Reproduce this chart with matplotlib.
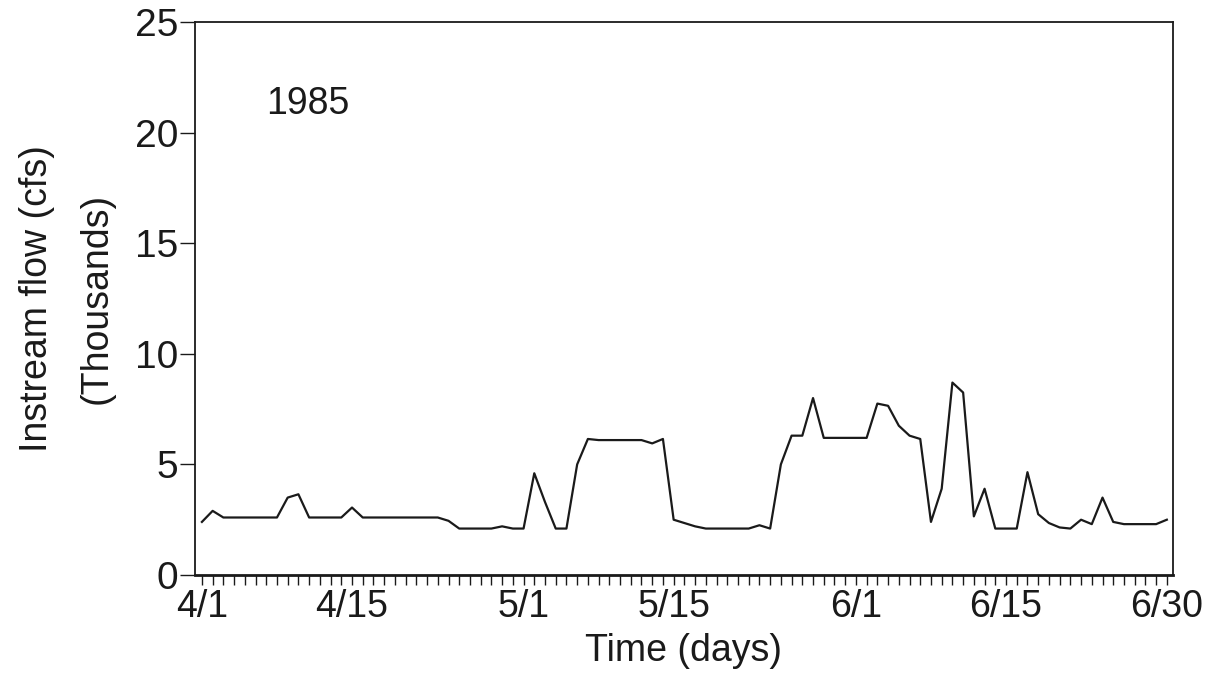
import numpy as np
import matplotlib.pyplot as plt

# Daily instream flow, 4/1 through 6/30 (thousands of cfs)
days = np.arange(0, 91)
flow = [
    2.4, 2.9, 2.6, 2.6, 2.6, 2.6, 2.6, 2.6, 3.5, 3.65,   # 4/1 - 4/10
    2.6, 2.6, 2.6, 2.6, 3.05, 2.6, 2.6, 2.6, 2.6, 2.6,   # 4/11 - 4/20
    2.6, 2.6, 2.6, 2.45, 2.1, 2.1, 2.1, 2.1, 2.2, 2.1,   # 4/21 - 4/30
    2.1, 4.6, 3.3, 2.1, 2.1, 5.0, 6.15, 6.1, 6.1, 6.1,   # 5/1 - 5/10
    6.1, 6.1, 5.95, 6.15, 2.5, 2.35, 2.2, 2.1, 2.1, 2.1,  # 5/11 - 5/20
    2.1, 2.1, 2.25, 2.1, 5.0, 6.3, 6.3, 8.0, 6.2, 6.2,   # 5/21 - 5/30
    6.2, 6.2, 6.2, 7.75, 7.65, 6.75, 6.3, 6.15, 2.4, 3.9,  # 5/31 - 6/9
    8.7, 8.25, 2.65, 3.9, 2.1, 2.1, 2.1, 4.65, 2.75, 2.35,  # 6/10 - 6/19
    2.15, 2.1, 2.5, 2.3, 3.5, 2.4, 2.3, 2.3, 2.3, 2.3,   # 6/20 - 6/29
    2.5,                                                  # 6/30
]
tick_days = [0, 14, 30, 44, 61, 75, 90]
tick_labels = ['4/1', '4/15', '5/1', '5/15', '6/1', '6/15', '6/30']
y_ticks = [0, 5, 10, 15, 20, 25]

plt.rcParams['font.family'] = ['Liberation Sans', 'DejaVu Sans']
ink = '#1a1a1a'

fig = plt.figure(figsize=(12.23, 6.8), dpi=100)
ax = fig.add_axes([0.1594, 0.1544, 0.7995, 0.8132])

ax.plot(days, flow, color=ink, lw=1.6)

ax.set_xlim(-0.65, 90.55)
ax.set_ylim(0, 25)

ax.set_xticks(tick_days)
ax.set_xticklabels(tick_labels, fontsize=27)
ax.set_xticks(days, minor=True)
ax.tick_params(axis='x', which='both', direction='out', length=7, width=1.0,
               pad=3, colors=ink)

ax.set_yticks(y_ticks)
ax.set_yticklabels([str(v) for v in y_ticks], fontsize=28)
ax.tick_params(axis='y', direction='out', length=11, width=1.0, pad=1,
               colors=ink)

for side in ax.spines.values():
    side.set_linewidth(1.3)
    side.set_color(ink)
ax.spines['bottom'].set_linewidth(2.0)

ax.set_xlabel('Time (days)', fontsize=27, labelpad=6, color=ink)
ax.set_ylabel('Instream flow (cfs)\n(Thousands)', fontsize=27,
              linespacing=1.85, color=ink)
ax.yaxis.set_label_coords(-0.082, 0.5)

ax.text(9.9, 21.3, '1985', fontsize=27, ha='center', va='center', color=ink)

fig.savefig('out.png', dpi=100)
